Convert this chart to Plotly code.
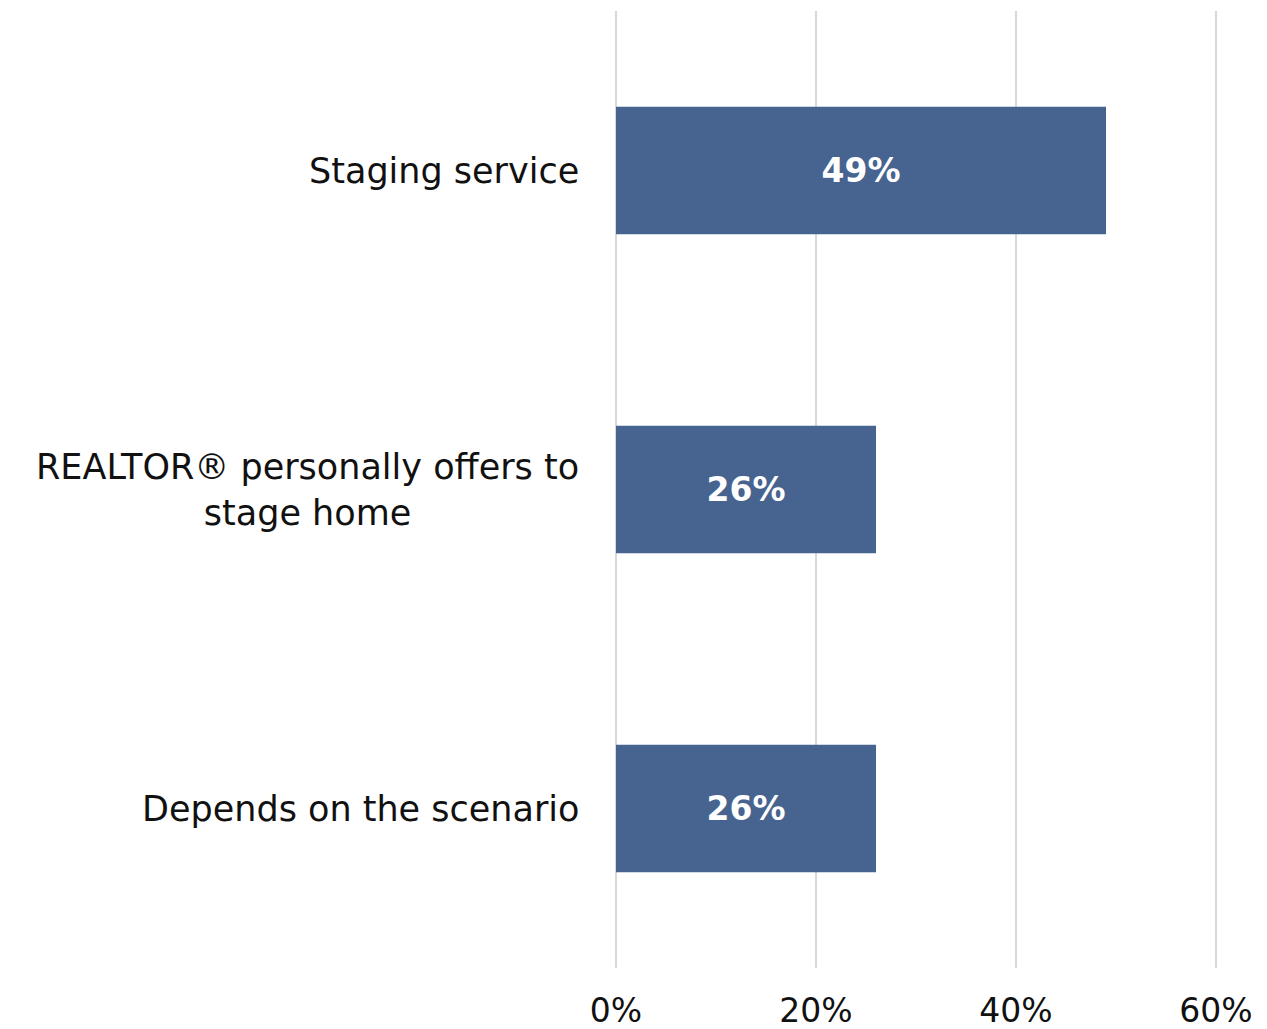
import plotly.graph_objects as go

categories = ["Staging service", "REALTOR® personally offers to<br>stage home", "Depends on the scenario"]
values = [49, 26, 26]
value_labels = ["49%", "26%", "26%"]
tick_vals = [0, 20, 40, 60]
tick_text = ["0%", "20%", "40%", "60%"]

FONT = "DejaVu Sans"
BAR = "#46648f"

fig = go.Figure()
fig.add_trace(go.Bar(
    y=categories, x=values, orientation="h",
    marker=dict(color=BAR, line=dict(width=0)),
    width=0.4,
    text=value_labels, textposition="inside", insidetextanchor="middle",
    textfont=dict(family=FONT, size=33, color="white", weight="bold"),
    hoverinfo="skip",
))

for c in categories:
    fig.add_annotation(
        x=0, xref="paper", y=c, yref="y", text=c, showarrow=False,
        xanchor="right", align="center", xshift=-30,
        font=dict(family=FONT, size=35, color="#111111"),
    )

fig.update_layout(
    width=1259, height=1021,
    margin=dict(l=603, r=46, t=3, b=61),
    paper_bgcolor="white", plot_bgcolor="white",
    showlegend=False,
    font=dict(family=FONT, color="#111111"),
    xaxis=dict(range=[-0.5, 60.5], tickvals=tick_vals, ticktext=tick_text,
               showgrid=True, gridcolor="#d9d9d9", gridwidth=2,
               zeroline=False, showline=False, ticks="",
               tickfont=dict(family=FONT, size=33, color="#111111"),
               ticklabelstandoff=20, automargin=False),
    yaxis=dict(categoryorder="array", categoryarray=categories[::-1],
               showticklabels=False, showgrid=False, zeroline=False,
               showline=False, range=[-0.5, 2.5], automargin=False),
)
fig.write_html("out.html")
